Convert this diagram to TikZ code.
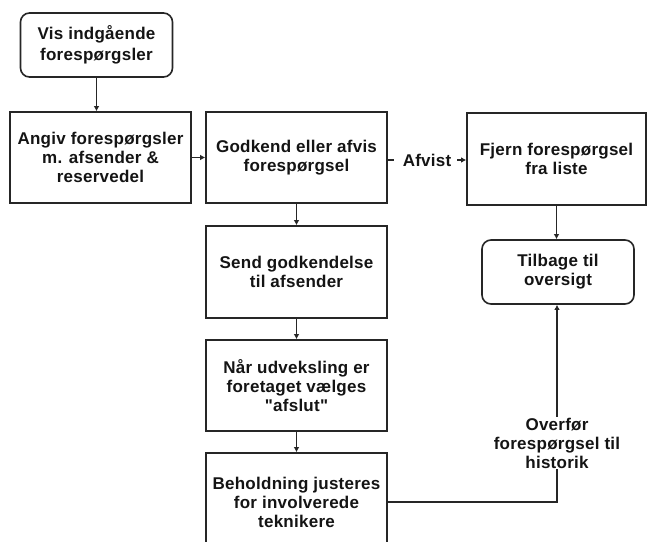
\documentclass[tikz,border=0pt]{standalone}
\usepackage{fontspec}
% a family of its own, so that " stays a straight quote
\newfontfamily\boxfont[LetterSpace=1.5]{Liberation Sans}
\usetikzlibrary{arrows.meta}

\begin{document}
\begin{tikzpicture}[x=1pt,y=-1pt,
  txt/.style={font=\boxfont\fontsize{17}{19}\selectfont\bfseries, text=black!92, align=center},
  stepbox/.style={txt, draw=black!85, line width=1.6pt, fill=white, inner sep=0pt,
    minimum width=181pt, minimum height=91pt},
  endbox/.style={stepbox, rounded corners=9pt, minimum width=152pt, minimum height=64pt},
  flow/.style={draw=black!85, line width=1.5pt, -{Latex[length=5pt,width=5.5pt]}},
  plain/.style={draw=black!85, line width=1.5pt},
  lbl/.style={txt, inner sep=1pt}]
\useasboundingbox (0,0) rectangle (648,541);
\clip (0,0) rectangle (648,541);
\fill[white] (0,0) rectangle (648,541);

% process steps
\node[endbox]  (b1) at (96.5,45)    {Vis indgående\\[2pt]forespørgsler};
\node[stepbox] (b2) at (100.5,157.5) {Angiv forespørgsler\\m. afsender \&\\reservedel};
\node[stepbox] (b3) at (296.5,157.5) {Godkend eller afvis\\forespørgsel};
\node[stepbox, minimum width=179pt, minimum height=92pt] (b4) at (556.5,159) {Fjern forespørgsel\\fra liste};
\node[endbox]  (b5) at (558,272)    {Tilbage til\\oversigt};
\node[stepbox, minimum height=92pt] (b6) at (296.5,272) {Send godkendelse\\til afsender};
\node[stepbox] (b7) at (296.5,385.5) {Når udveksling er\\foretaget vælges\\"afslut"};
\node[stepbox, minimum height=98pt] (b8) at (296.5,502) {Beholdning justeres\\for involverede\\teknikere};

% edge labels
\node[lbl, inner xsep=6pt] (afv) at (427,160) {Afvist};
\node[lbl] (hist) at (557,443) {Overfør\\forespørgsel til\\historik};

% connectors
\draw[flow] (b1.south) -- (b1.south |- b2.north);
\draw[flow] (b2.east) -- (b3.west);
\draw[flow] (b3.south) -- (b6.north);
\draw[flow] (b6.south) -- (b7.north);
\draw[flow] (b7.south) -- (b8.north);
\draw[plain] (b3.east |- afv) -- ([xshift=-3pt]afv.west);
\draw[flow] (afv.east) -- (b4.west |- afv);
\draw[flow] (b4.south) -- (b4.south |- b5.north);
\draw[plain] (b8.east) -| (hist.south);
\draw[flow] (hist.north) -- (hist.north |- b5.south);
\end{tikzpicture}
\end{document}
